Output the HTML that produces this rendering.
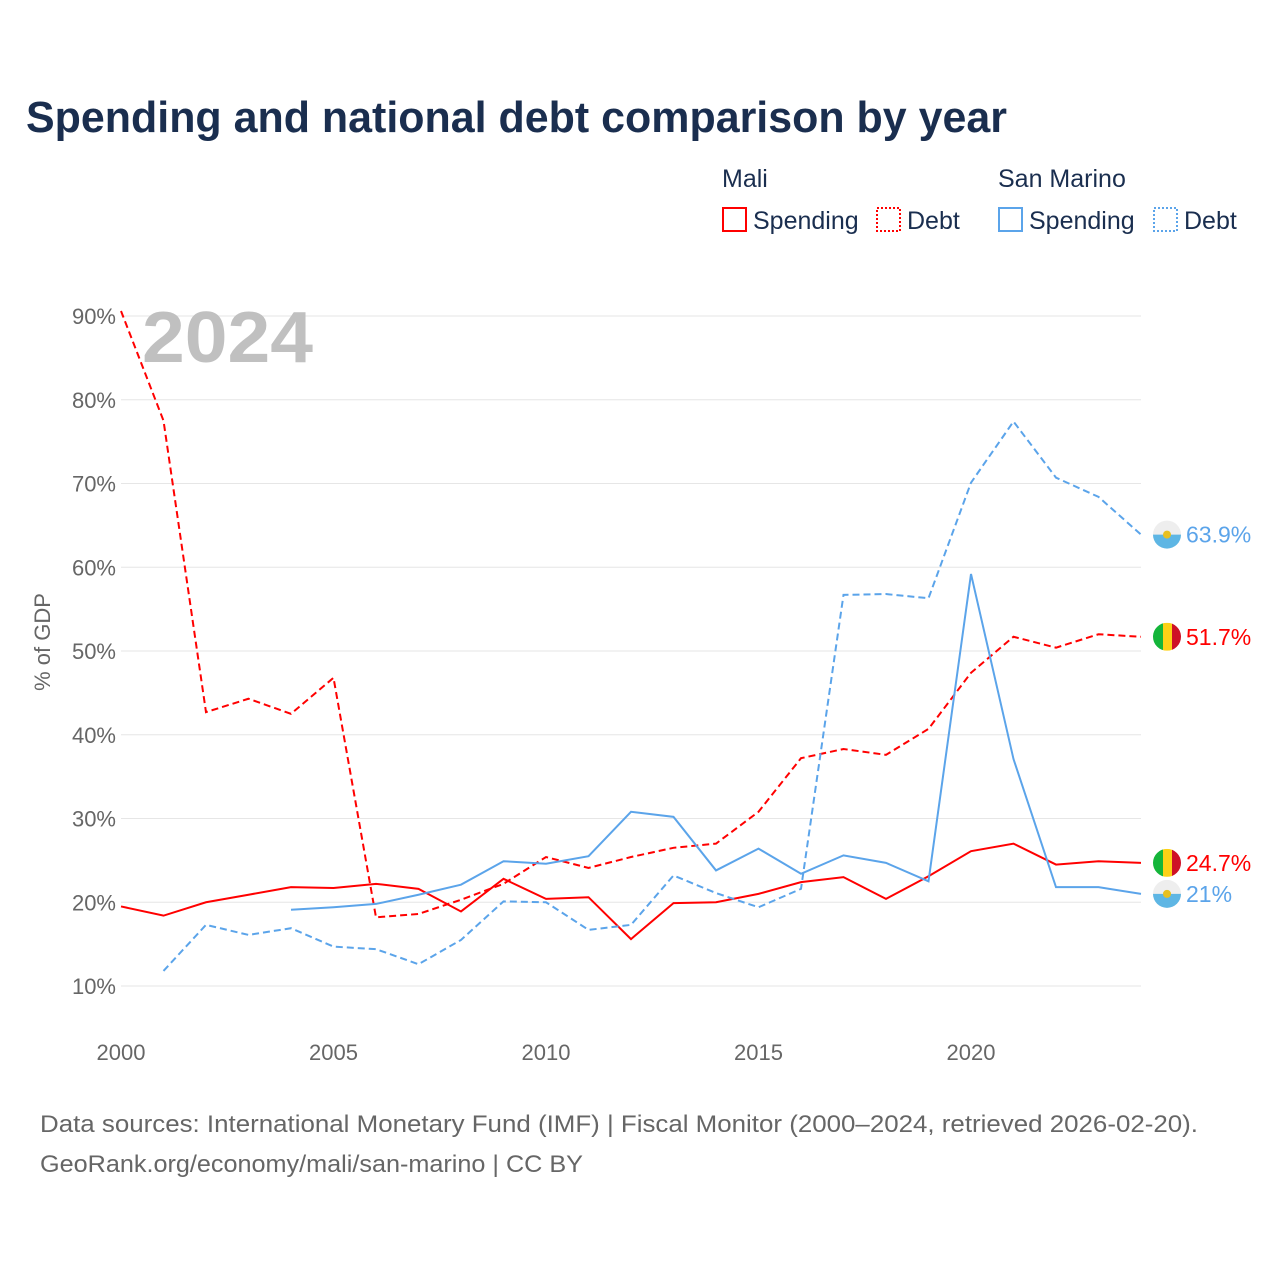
<!DOCTYPE html>
<html><head><meta charset="utf-8"><style>
body{margin:0;background:#fff;font-family:"Liberation Sans",sans-serif;}
</style></head><body>
<svg width="1280" height="1280" xmlns="http://www.w3.org/2000/svg" style="display:block">
<text x="26" y="132" font-size="44" font-weight="bold" fill="#1a2e4f" textLength="981" lengthAdjust="spacingAndGlyphs">Spending and national debt comparison by year</text>
<g font-size="25" fill="#1a2e4f">
<text x="722" y="187">Mali</text>
<text x="998" y="187">San Marino</text>
<g><rect x="723" y="208" width="23" height="23" fill="none" stroke="#f00" stroke-width="2"/><text x="753" y="229">Spending</text></g>
<g><rect x="877" y="208" width="23" height="23" fill="none" stroke="#f00" stroke-width="2" stroke-dasharray="2,2"/><text x="907" y="229">Debt</text></g>
<g><rect x="999" y="208" width="23" height="23" fill="none" stroke="#5ba4ea" stroke-width="2"/><text x="1029" y="229">Spending</text></g>
<g><rect x="1154" y="208" width="23" height="23" fill="none" stroke="#5ba4ea" stroke-width="2" stroke-dasharray="2,2"/><text x="1184" y="229">Debt</text></g>
</g>
<g id="grid"></g>
<text x="142" y="362" font-size="72" font-weight="bold" fill="#c0c0c0" textLength="171" lengthAdjust="spacingAndGlyphs">2024</text>
<text transform="translate(50,642) rotate(-90)" text-anchor="middle" font-size="22" fill="#666">% of GDP</text>
<g id="series"></g>
<g font-size="24" fill="#666">
<text x="40" y="1132" textLength="1158" lengthAdjust="spacingAndGlyphs">Data sources: International Monetary Fund (IMF) | Fiscal Monitor (2000–2024, retrieved 2026-02-20).</text>
<text x="40" y="1172" textLength="543" lengthAdjust="spacingAndGlyphs">GeoRank.org/economy/mali/san-marino | CC BY</text>
</g>
</svg>
<script>
const years=[2000,2001,2002,2003,2004,2005,2006,2007,2008,2009,2010,2011,2012,2013,2014,2015,2016,2017,2018,2019,2020,2021,2022,2023,2024];
const maliSpending=[19.5,18.4,20.0,20.9,21.8,21.7,22.2,21.6,18.9,22.8,20.4,20.6,15.6,19.9,20.0,21.0,22.4,23.0,20.4,23.1,26.1,27.0,24.5,24.9,24.7];
const maliDebt=[90.6,77.5,42.7,44.3,42.5,46.8,18.2,18.6,20.3,22.2,25.4,24.1,25.4,26.5,27.0,30.8,37.2,38.3,37.6,40.7,47.4,51.7,50.4,52.0,51.7];
const smSpending=[null,null,null,null,19.1,19.4,19.8,20.9,22.1,24.9,24.6,25.5,30.8,30.2,23.8,26.4,23.4,25.6,24.7,22.5,59.2,37.1,21.8,21.8,21.0];
const smDebt=[null,11.8,17.3,16.1,16.9,14.7,14.4,12.6,15.5,20.1,20.0,16.7,17.3,23.2,21.1,19.4,21.6,56.7,56.8,56.3,70.1,77.4,70.7,68.4,63.9];
const yTicks=[10,20,30,40,50,60,70,80,90];
const xTicks=[2000,2005,2010,2015,2020];
const NS="http://www.w3.org/2000/svg";
const X=y=>121+(y-2000)*42.5;
const Y=v=>986-(v-10)*8.375;
function mk(t,a,p){const e=document.createElementNS(NS,t);for(const k in a)e.setAttribute(k,a[k]);p.appendChild(e);return e;}
const grid=document.getElementById('grid');
yTicks.forEach(v=>{
 const l=mk('line',{x1:121,x2:1141,y1:Y(v),y2:Y(v),stroke:'#e6e6e6','stroke-width':1},grid);
 
 
 const t=mk('text',{x:116,y:Y(v)+8,'text-anchor':'end','font-size':22,fill:'#666'},grid);
 t.textContent=v+'%';
 
 
});
xTicks.forEach(v=>{
 const t=mk('text',{x:X(v),y:1060,'text-anchor':'middle','font-size':22,fill:'#666'},grid);
 t.textContent=v;
 
 
});
const sg=document.getElementById('series');
function line(vals,color,dash,name){
 let d='',pen=false;
 vals.forEach((v,i)=>{if(v==null){pen=false;return;}d+=(pen?'L':'M')+X(years[i])+','+Y(v);pen=true;});
 const p=mk('path',{d:d,fill:'none',stroke:color,'stroke-width':2,'stroke-dasharray':dash||'none'},sg);
 
 
}
line(maliSpending,'#f00','', 'line-mali-spending');
line(maliDebt,'#f00','7,4','line-mali-debt');
line(smSpending,'#5ba4ea','', 'line-sm-spending');
line(smDebt,'#5ba4ea','7,4','line-sm-debt');
function flag(v,mali,color,name){
 const cy=Y(v),cx=1167;
 const g=mk('g',{},sg);
 
 
 if(mali){
  mk('rect',{x:cx-14,y:cy-14,width:10,height:28,fill:'#14b53a'},g);
  mk('rect',{x:cx-4,y:cy-14,width:9,height:28,fill:'#fcd116'},g);
  mk('rect',{x:cx+5,y:cy-14,width:10,height:28,fill:'#ce1126'},g);
  mk('circle',{cx:cx,cy:cy,r:20,fill:'none',stroke:'#fff','stroke-width':12},g);
 } else {
  mk('circle',{cx:cx,cy:cy,r:14,fill:'#eee'},g);
  mk('path',{d:`M${cx-14},${cy} A14,14 0 0 0 ${cx+14},${cy} Z`,fill:'#5eb6e4'},g);
  mk('circle',{cx:cx,cy:cy,r:4,fill:'#e8c020'},g);
 }
 const t=mk('text',{x:1186,y:cy+8,'font-size':23,fill:color},sg);
 t.textContent=v+'%';
 
 
}
flag(smDebt[24],false,'#5ba4ea','end-sm-debt');
flag(maliDebt[24],true,'#f00','end-mali-debt');
flag(maliSpending[24],true,'#f00','end-mali-spending');
flag(smSpending[24],false,'#5ba4ea','end-sm-spending');
</script>
</body></html>
